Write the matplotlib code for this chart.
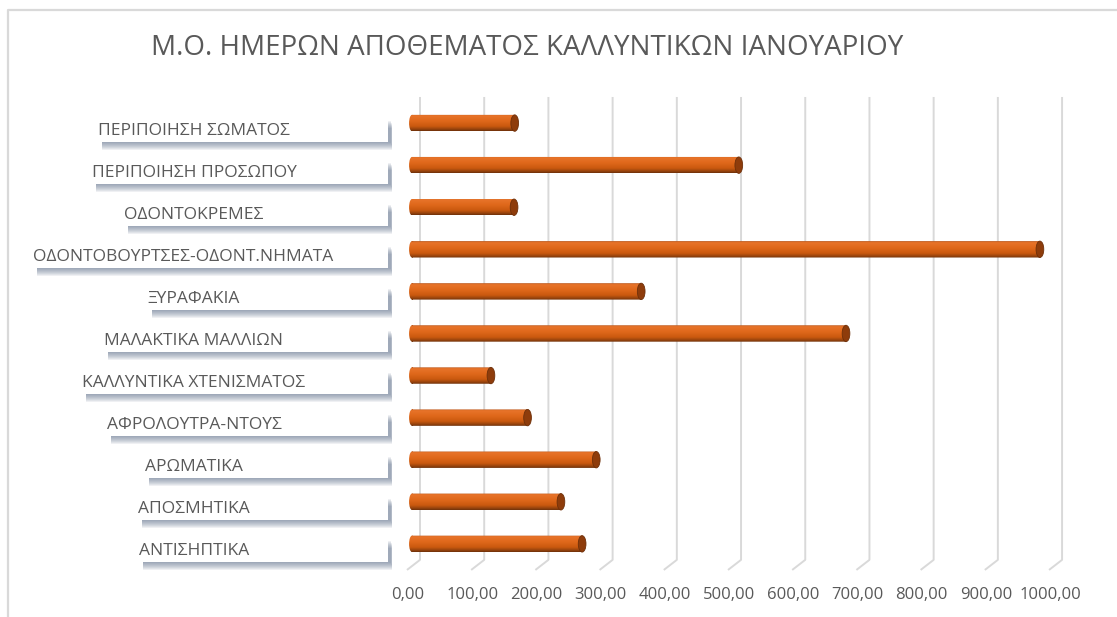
import matplotlib
matplotlib.use("Agg")
import matplotlib.pyplot as plt
import numpy as np
from matplotlib.patches import Rectangle, Ellipse
from matplotlib.path import Path
from matplotlib.colors import LinearSegmentedColormap
from matplotlib.transforms import blended_transform_factory, ScaledTranslation, IdentityTransform

plt.rcParams['font.family'] = ['Open Sans', 'DejaVu Sans']

# data
categories = ['ΠΕΡΙΠΟΙΗΣΗ ΣΩΜΑΤΟΣ', 'ΠΕΡΙΠΟΙΗΣΗ ΠΡΟΣΩΠΟΥ', 'ΟΔΟΝΤΟΚΡΕΜΕΣ',
              'ΟΔΟΝΤΟΒΟΥΡΤΣΕΣ-ΟΔΟΝΤ.ΝΗΜΑΤΑ', 'ΞΥΡΑΦΑΚΙΑ', 'ΜΑΛΑΚΤΙΚΑ ΜΑΛΛΙΩΝ',
              'ΚΑΛΛΥΝΤΙΚΑ ΧΤΕΝΙΣΜΑΤΟΣ', 'ΑΦΡΟΛΟΥΤΡΑ-ΝΤΟΥΣ', 'ΑΡΩΜΑΤΙΚΑ',
              'ΑΠΟΣΜΗΤΙΚΑ', 'ΑΝΤΙΣΗΠΤΙΚΑ']
days = [160, 509, 159, 978, 357, 676, 123, 180, 287, 232, 265]
x_ticks = [0, 100, 200, 300, 400, 500, 600, 700, 800, 900, 1000]
title = 'Μ.Ο. ΗΜΕΡΩΝ ΑΠΟΘΕΜΑΤΟΣ ΚΑΛΛΥΝΤΙΚΩΝ ΙΑΝΟΥΑΡΙΟΥ'

W, H = 1117, 617
GREY = '#595959'
fig = plt.figure(figsize=(W / 100, H / 100), dpi=100)
ax = fig.add_axes([380 / W, 1 - 575 / H, 710 / W, 485 / H])
ax.set_axis_off()

xlim = (-49.8, 1056)
ylim = (10.74, -0.786)

# 3d-ish gridlines: back wall + floor diagonal
for v in x_ticks:
    ax.plot([v + 12.5, v + 12.5, v - 7.8], [-0.62, 10.38, 10.62],
            color='#D9D9D9', lw=1.4, zorder=1, solid_capstyle='butt')
    ax.text(v - 6, 11.21, f'{v:.2f}'.replace('.', ','), ha='center', va='center',
            fontsize=12, color=GREY, clip_on=False)

# bars with cylinder shading
bar_h = 0.39
grad_cols = [(0.0, '#B5531A'), (0.08, '#E8742A'), (0.4, '#DF681B'),
             (0.72, '#CA590F'), (0.9, '#96430D'), (1.0, '#6E300A')]
cmap = LinearSegmentedColormap.from_list('cyl', grad_cols)
grad = np.linspace(0, 1, 64)[:, None]
y_pos = np.arange(len(categories))
bars = ax.barh(y_pos, days, height=bar_h, color='none', zorder=3)
for b, v, y in zip(bars, days, y_pos):
    left = Ellipse((0, y), 9, bar_h)
    clip = Path.make_compound_path(
        b.get_path().transformed(b.get_patch_transform()),
        left.get_path().transformed(left.get_patch_transform()))
    im = ax.imshow(grad, cmap=cmap, aspect='auto', zorder=3,
                   extent=(-5, v, y + bar_h / 2, y - bar_h / 2), origin='upper')
    im.set_clip_path(clip, ax.transData)
    ax.add_patch(Ellipse((v, y), 12, bar_h, facecolor='#8E3C0B',
                         edgecolor='#6E300A', lw=0.6, zorder=4))

ax.set_xlim(*xlim)
ax.set_ylim(*ylim)

# category labels in boxes with soft shadow
tr = blended_transform_factory(fig.transFigure, ax.transData) + \
    ScaledTranslation(0, -7.5 / 100, fig.dpi_scale_trans)
texts = []
for y, name in zip(y_pos, categories):
    t = fig.text(194 / W, y, name, transform=tr, ha='center', va='center',
                 fontsize=12.5, color=GREY, zorder=5)
    texts.append(t)

fig.canvas.draw()
renderer = fig.canvas.get_renderer()
right = 388
for t in texts:
    bb = t.get_window_extent(renderer)
    w = bb.width
    x0 = min(bb.x0, 333 - w)
    if x0 != bb.x0:
        t.set_x((x0 + w / 2) / W)
    yc = (bb.y0 + bb.y1) / 2 + 1
    for r in range(1, 9):
        fig.add_artist(Rectangle((x0 + 4, yc - 12 - r), right - x0 - 2 + min(r, 4) * 0.6, 22,
                                 transform=IdentityTransform(), color='#4F6180',
                                 alpha=0.09, lw=0, zorder=1))
    fig.add_artist(Rectangle((x0 - 1, yc - 12), right - x0 + 1, 24,
                             transform=IdentityTransform(), color='white', lw=0, zorder=2))

# title
fig.text(527 / W, 1 - 48 / H, title, ha='center', va='center', fontsize=20, color=GREY)

# chart frame
fig.add_artist(plt.Line2D([8 / W, 8 / W, 1], [0, 1 - 10 / H, 1 - 10 / H],
                          color='#D9D9D9', lw=1.6))

fig.savefig('out.png', dpi=100)
